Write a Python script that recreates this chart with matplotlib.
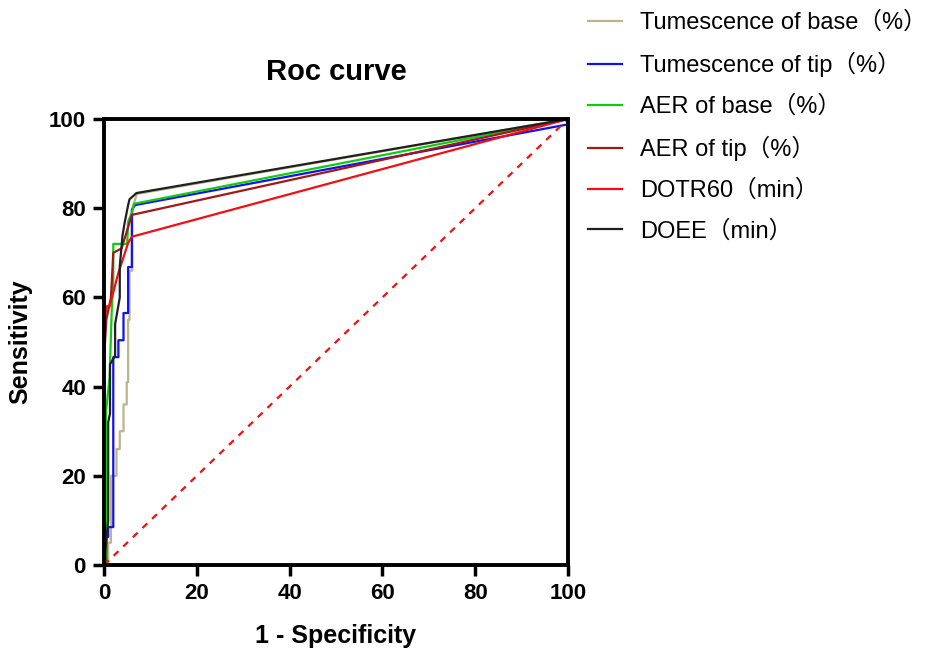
import matplotlib
matplotlib.use("Agg")
import matplotlib.pyplot as plt

plt.rcParams['font.family'] = ['Liberation Sans', 'Noto Sans CJK SC', 'DejaVu Sans']

labels = ["Tumescence of base（%）", "Tumescence of tip（%）", "AER of base（%）",
          "AER of tip（%）", "DOTR60（min）", "DOEE（min）"]
colors = ["#BDB38E", "#1010F0", "#10CC10", "#A01818", "#F01010", "#202020"]

tb_x = [0, 0.9, 0.9, 1.5, 1.5, 2.7, 2.7, 3.4, 3.4, 4.2, 4.2, 4.9, 4.9, 5.2, 5.2, 5.5, 5.5, 6.1, 6.1, 7.1, 100]
tb_y = [0, 0, 5, 5, 20, 20, 26, 26, 30, 30, 36, 36, 41, 41, 55, 55, 66, 66, 80, 83.2, 100]

tt_x = [0, 0.5, 0.5, 0.9, 0.9, 2.0, 2.0, 3.1, 3.1, 4.2, 4.2, 5.2, 5.2, 6.0, 6.0, 6.7, 100, 100]
tt_y = [0, 0, 6.3, 6.3, 8.5, 8.5, 46.6, 46.6, 50.4, 50.4, 56.5, 56.5, 66.8, 66.8, 79.6, 80.7, 98.8, 100]

ab_x = [0, 0.4, 0.4, 1.2, 1.7, 2.0, 2.0, 5.0, 5.2, 6.0, 6.5, 100]
ab_y = [0, 0, 34, 42, 58, 64, 72, 72, 77, 79, 81, 100]

at_x = [0, 0, 0.5, 1.5, 2.0, 3.8, 6.0, 100]
at_y = [0, 46, 55, 60, 70, 71, 78.5, 100]

dr_x = [0, 0, 0.6, 1.2, 3.1, 5.2, 6.0, 100]
dr_y = [0, 54, 58, 58, 65.5, 72.2, 73.6, 100]

de_x = [0, 0.3, 0.3, 0.9, 0.9, 1.3, 1.3, 2.4, 2.4, 3.4, 3.4, 4.0, 4.5, 5.2, 5.5, 7.0, 100]
de_y = [0, 0, 3, 10, 32, 34, 45, 47, 54, 60, 67, 74, 77, 80.7, 82, 83.4, 100]

ref_x = [0, 100]
ref_y = [0, 100]

fig = plt.figure(figsize=(9.33, 6.52), dpi=100)
ax = fig.add_axes([104/933, 1-565/652, 464/933, 446/652])

series = [(tb_x, tb_y), (tt_x, tt_y), (ab_x, ab_y), (at_x, at_y), (dr_x, dr_y), (de_x, de_y)]
for (xs, ys), lab, c in zip(series, labels, colors):
    ax.plot(xs, ys, color=c, lw=1.6, label=lab, clip_on=False)
ax.plot(ref_x, ref_y, color="#F01010", lw=1.6, ls=(0, (3, 3)))

ax.set_xlim(0, 100)
ax.set_ylim(0, 100)
ax.set_xticks(range(0, 101, 20))
ax.set_yticks(range(0, 101, 20))
for s in ax.spines.values():
    s.set_linewidth(2.8)
ax.tick_params(width=2.5, length=8, labelsize=16, direction='out', pad=5)
for t in ax.get_xticklabels() + ax.get_yticklabels():
    t.set_fontweight('bold')
ax.set_xlabel("1 - Specificity", fontsize=18, fontweight='bold', labelpad=14)
ax.set_ylabel("Sensitivity", fontsize=18, fontweight='bold', labelpad=12)
ax.set_title("Roc curve", fontsize=21, fontweight='bold', pad=28)

fig.legend(loc='upper left', bbox_to_anchor=(579/933, 0.997), frameon=False,
           fontsize=17, handlelength=1.4, handletextpad=0.8, labelspacing=0.77,
           borderaxespad=0.0)

fig.savefig("out.png", dpi=100)
